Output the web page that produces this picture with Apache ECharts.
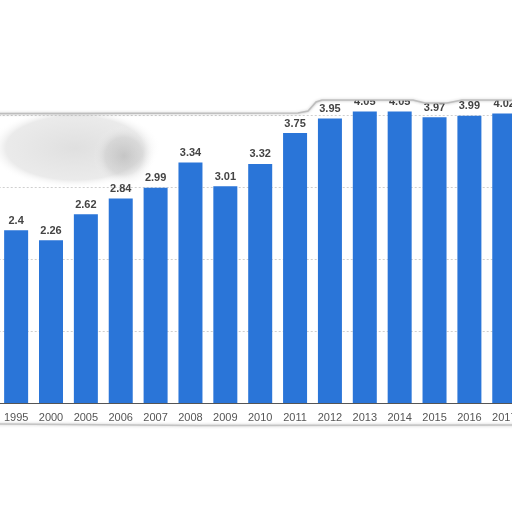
<!DOCTYPE html>
<html>
<head>
<meta charset="utf-8">
<script src="https://cdn.jsdelivr.net/npm/echarts@6/dist/echarts.min.js"></script>
<style>html,body{margin:0;padding:0;background:#fff;}#c{width:512px;height:512px;}</style>
</head>
<body>
<div id="c"></div>
<script>
var categories = ['1995','2000','2005','2006','2007','2008','2009','2010','2011','2012','2013','2014','2015','2016','2017'];
var values = [2.4, 2.26, 2.62, 2.84, 2.99, 3.34, 3.01, 3.32, 3.75, 3.95, 4.05, 4.05, 3.97, 3.99, 4.02];

function radial(cx, cy, r, stops) {
  return { type: 'radial', x: cx, y: cy, r: r, colorStops: stops };
}

var chart = echarts.init(document.getElementById('c'));
chart.setOption({
  animation: false,
  backgroundColor: '#ffffff',
  grid: { left: -1.3, width: 523, top: 43, bottom: 109, containLabel: false, outerBoundsMode: 'none' },
  xAxis: {
    type: 'category',
    data: categories,
    axisLine: { lineStyle: { color: '#555', width: 1 } },
    axisTick: { show: false },
    axisLabel: { color: '#555', fontSize: 11, fontFamily: 'Liberation Sans, Arial, sans-serif', margin: 9, interval: 0 }
  },
  yAxis: {
    type: 'value', min: 0, max: 5, interval: 1,
    axisLabel: { show: false },
    axisLine: { show: false },
    axisTick: { show: false },
    splitLine: { lineStyle: { color: '#cfcfcf', type: [2, 2], width: 1 } }
  },
  series: [{
    type: 'bar',
    data: values,
    barWidth: 24,
    itemStyle: { color: '#2a75d8' },
    label: {
      show: true, position: 'top', distance: 4,
      color: '#444', fontSize: 11, fontWeight: 'bold',
      fontFamily: 'Liberation Sans, Arial, sans-serif'
    }
  }],
  graphic: [
    {
      type: 'rect', z: 100, silent: true, x: -22, y: 108, scaleX: 2.15,
      shape: { x: 0, y: 0, width: 90, height: 80 },
      style: { fill: radial(0.5, 0.5, 0.5, [
        { offset: 0, color: 'rgba(180,180,180,0.42)' },
        { offset: 0.8, color: 'rgba(195,195,195,0.34)' },
        { offset: 1, color: 'rgba(255,255,255,0)' }]) }
    },
    {
      type: 'rect', z: 101, silent: true, x: 92, y: 125,
      shape: { x: 0, y: 0, width: 64, height: 62 },
      style: { fill: radial(0.5, 0.5, 0.5, [
        { offset: 0, color: 'rgba(155,155,155,0.45)' },
        { offset: 0.6, color: 'rgba(175,175,175,0.28)' },
        { offset: 1, color: 'rgba(255,255,255,0)' }]) }
    },
    {
      type: 'polygon', z: 110, silent: true,
      shape: { points: [[-10,-10],[522,-10],[522,100],[462,100],[447,103],[425,103],[413,100],[322,100],[316,102],[308,111],[298,113],[-10,113.5]] },
      style: { fill: '#ffffff', stroke: '#bdbdbd', lineWidth: 1.5, shadowBlur: 3, shadowColor: 'rgba(0,0,0,0.2)' }
    },
    {
      type: 'polyline', z: 110, silent: true,
      shape: { points: [[-10,424],[200,425.5],[522,425]] },
      style: { stroke: '#c4c4c4', lineWidth: 1.6, shadowBlur: 3, shadowColor: 'rgba(0,0,0,0.25)' }
    }
  ]
});
</script>
</body>
</html>
